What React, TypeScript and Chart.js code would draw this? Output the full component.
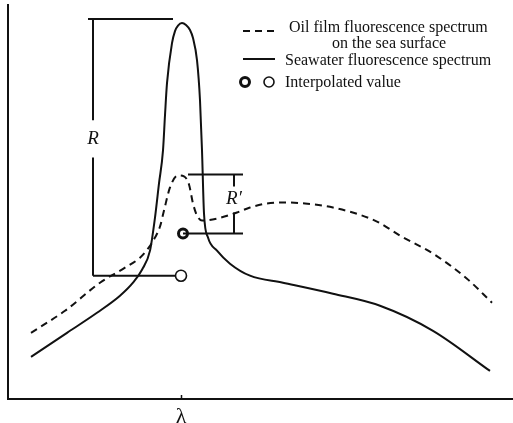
import React, { useEffect, useRef } from "react";
import { Chart, registerables } from "chart.js";

Chart.register(...registerables);

// Wavelength axis (arbitrary units) and fluorescence intensity (arbitrary units)
const seawaterX = [23, 59, 89, 112, 125, 134, 142, 147, 151, 155, 157, 159, 164, 167, 170, 174, 178, 182, 185, 189, 192, 194, 196, 200, 209, 222, 242, 275, 325, 372, 425, 482];
const seawaterY = [42, 66, 86, 103, 116, 129, 148, 181, 215, 248, 283, 315, 355, 367, 372.5, 375, 373, 368, 360, 338, 298, 248, 185, 161, 148, 135, 123, 116, 105, 93, 68, 28];

const oilX = [23, 57, 92, 117, 132, 140, 147, 152, 156, 162, 170, 176, 181, 185, 189, 194, 209, 229, 242, 259, 277, 297, 325, 369, 392, 425, 459, 484];
const oilY = [66, 88, 116, 131, 141, 150, 161, 172, 188, 211, 223, 222, 214, 195, 183, 178, 180, 186, 191, 195, 196, 195, 191, 177, 163, 145, 120, 96];

// Characteristic wavelength λ and the interpolated values
const lambdaX = 173;
const seawaterPeak = 379;
const seawaterBase = 123;
const oilPeak = 224;
const oilBase = 165;
const interpSeawaterX = 173;
const interpOilX = 175;

const legendLabels = [
  "Oil film fluorescence spectrum",
  "on the sea surface",
  "Seawater fluorescence spectrum",
  "Interpolated value",
];

const serif = "'Liberation Serif', 'Times New Roman', serif";

const pts = (xs: number[], ys: number[]) => xs.map((x, i) => ({ x, y: ys[i] }));

const seg = (a: [number, number], b: [number, number]) => ({
  type: "line" as const,
  data: [{ x: a[0], y: a[1] }, { x: b[0], y: b[1] }],
  borderColor: "#111",
  borderWidth: 2,
  pointRadius: 0,
  tension: 0,
});

const annotationPlugin = {
  id: "annotations",
  afterDraw(chart: any) {
    const { ctx, scales, chartArea } = chart;
    const xs = scales.x;
    const ys = scales.y;
    ctx.save();
    ctx.fillStyle = "#111";
    ctx.strokeStyle = "#111";

    // short inward tick at λ
    const tx = Math.round(xs.getPixelForValue(lambdaX)) + 0.5;
    ctx.lineWidth = 1.5;
    ctx.beginPath();
    ctx.moveTo(tx, chartArea.bottom);
    ctx.lineTo(tx, chartArea.bottom - 4);
    ctx.stroke();

    // R and R' labels
    ctx.font = `italic 19px ${serif}`;
    ctx.textAlign = "center";
    ctx.textBaseline = "middle";
    ctx.fillText("R", xs.getPixelForValue(85), ys.getPixelForValue(259));
    ctx.fillText("R\u2032", xs.getPixelForValue(226), ys.getPixelForValue(199));

    // Legend
    ctx.font = `16px ${serif}`;
    ctx.textAlign = "left";
    ctx.textBaseline = "alphabetic";
    ctx.fillText(legendLabels[0], 289, 32);
    ctx.fillText(legendLabels[1], 332, 48);
    ctx.fillText(legendLabels[2], 285, 65);
    ctx.fillText(legendLabels[3], 285, 87);

    ctx.lineWidth = 2;
    ctx.setLineDash([7, 5]);
    ctx.beginPath();
    ctx.moveTo(243, 31);
    ctx.lineTo(274, 31);
    ctx.stroke();
    ctx.setLineDash([]);
    ctx.beginPath();
    ctx.moveTo(243, 59);
    ctx.lineTo(275, 59);
    ctx.stroke();

    ctx.fillStyle = "#fff";
    ctx.lineWidth = 3;
    ctx.beginPath();
    ctx.arc(245, 82, 4.5, 0, Math.PI * 2);
    ctx.fill();
    ctx.stroke();
    ctx.lineWidth = 1.6;
    ctx.beginPath();
    ctx.arc(269, 82, 5, 0, Math.PI * 2);
    ctx.fill();
    ctx.stroke();
    ctx.restore();
  },
};

export default function App() {
  const ref = useRef<HTMLCanvasElement | null>(null);

  useEffect(() => {
    document.body.style.margin = "0";
    const canvas = ref.current;
    if (!canvas) return;
    const chart = new Chart(canvas, {
      type: "line",
      data: {
        datasets: [
          {
            label: legendLabels[0],
            data: pts(oilX, oilY),
            borderColor: "#111",
            borderWidth: 2,
            borderDash: [7, 5],
            pointRadius: 0,
            cubicInterpolationMode: "monotone",
          },
          {
            label: legendLabels[2],
            data: pts(seawaterX, seawaterY),
            borderColor: "#111",
            borderWidth: 2,
            pointRadius: 0,
            cubicInterpolationMode: "monotone",
          },
          // R: seawater peak height above the interpolated value
          seg([80, seawaterPeak], [165, seawaterPeak]),
          seg([85, seawaterPeak], [85, 278]),
          seg([85, 241], [85, seawaterBase]),
          seg([85, seawaterBase], [interpSeawaterX - 6, seawaterBase]),
          // R': oil film peak height above the interpolated value
          seg([180, oilPeak], [235, oilPeak]),
          seg([226, oilPeak], [226, 212]),
          seg([226, 186], [226, oilBase]),
          seg([interpOilX, oilBase], [235, oilBase]),
          {
            type: "line",
            label: legendLabels[3],
            data: [{ x: interpOilX, y: oilBase }],
            showLine: false,
            pointRadius: 4.5,
            pointBorderWidth: 3,
            pointBorderColor: "#111",
            pointBackgroundColor: "#fff",
          },
          {
            type: "line",
            label: legendLabels[3],
            data: [{ x: interpSeawaterX, y: seawaterBase }],
            showLine: false,
            pointRadius: 5.5,
            pointBorderWidth: 1.6,
            pointBorderColor: "#111",
            pointBackgroundColor: "#fff",
          },
        ] as any,
      },
      options: {
        animation: false,
        responsive: false,
        layout: { autoPadding: false, padding: { left: 8, top: 5, right: 0, bottom: 0 } },
        plugins: {
          legend: { display: false },
          tooltip: { enabled: false },
        },
        scales: {
          x: {
            type: "linear",
            min: 0,
            max: 505,
            afterBuildTicks: (scale: any) => {
              scale.ticks = [{ value: lambdaX }];
            },
            afterFit: (scale: any) => {
              scale.height = 24;
            },
            ticks: {
              autoSkip: false,
              maxRotation: 0,
              padding: 5,
              color: "#111",
              font: { family: serif, size: 22 },
              callback: () => "\u03bb",
            },
            grid: { display: false, drawTicks: false },
            border: { display: true, color: "#111", width: 2 },
          },
          y: {
            type: "linear",
            min: 0,
            max: 393,
            afterFit: (scale: any) => {
              scale.width = 0;
            },
            ticks: { display: false },
            grid: { display: false, drawTicks: false },
            border: { display: true, color: "#111", width: 2 },
          },
        },
      } as any,
      plugins: [annotationPlugin],
    });
    return () => chart.destroy();
  }, []);

  return (
    <div style={{ width: 513, height: 423, background: "#fff" }}>
      <canvas ref={ref} width={513} height={423} style={{ display: "block" }} />
    </div>
  );
}
